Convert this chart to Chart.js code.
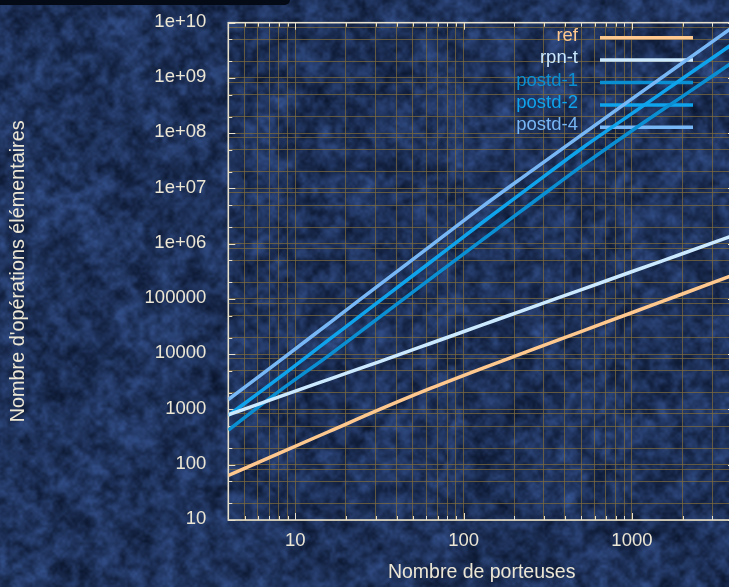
<!DOCTYPE html>
<html>
<head>
<meta charset="utf-8">
<title>Nombre d'opérations élémentaires</title>
<script src="https://cdn.jsdelivr.net/npm/chart.js@4.4.1/dist/chart.umd.min.js"></script>
<style>
  html, body { margin: 0; padding: 0; overflow: hidden; background: #223a66; }
  #wrap { position: relative; width: 729px; height: 587px; overflow: hidden; }
  #bg, #chart { position: absolute; left: 0; top: 0; }
  #titlebar { position: absolute; left: 0; top: 0; width: 290px; height: 5px;
              background: #050a17; border-bottom-right-radius: 5px; }
</style>
</head>
<body>
<div id="wrap">
  <canvas id="bg" width="729" height="587"></canvas>
  <canvas id="chart" width="745" height="587"></canvas>
  <div id="titlebar"></div>
</div>
<script>
// number of carriers (x) and elementary operations per method (y)
const carriers  = [4, 8, 16, 32, 64, 128, 256, 512, 1024, 2048, 4096];
const refOps    = [64, 161, 404, 1014, 2430, 5510, 12100, 26500, 58100, 127000, 279000];
const rpnOps    = [802, 1690, 3550, 7450, 15800, 33600, 71400, 151000, 321000, 679000, 1440000];
const postd1Ops = [423, 2130, 9750, 47900, 235000, 1150000, 5520000, 26400000, 117000000, 490000000, 2050000000];
const postd2Ops = [780, 3720, 18700, 94000, 472000, 2370000, 11500000, 55200000, 238000000, 1030000000, 4420000000];
const postd4Ops = [1517, 7430, 37100, 185000, 923000, 4600000, 21300000, 97500000, 440000000, 1980000000, 8900000000];

const seriesNames = ['ref', 'rpn-t', 'postd-1', 'postd-2', 'postd-4'];

// tick labels
const xLabelValues = [10, 100, 1000];
const xLabelTexts  = ['10', '100', '1000'];
const yLabelValues = [10, 100, 1000, 10000, 100000, 1e6, 1e7, 1e8, 1e9, 1e10];
const yLabelTexts  = ['10', '100', '1000', '10000', '100000', '1e+06', '1e+07', '1e+08', '1e+09', '1e+10'];

// minor grid multipliers inside each decade
const xGridFactors = [1, 2, 3, 4, 5, 6, 7, 8, 9];
const yGridFactors = [1, 2, 5, 8.3];
const yTickFactors = [1, 2, 5];

const textColor = '#ece6d4';
const gridColor = 'rgba(124, 105, 62, 0.75)';
const frameColor = '#e6e0cc';
const colors = ['#ffc88e', '#cbe9ff', '#0a8fd3', '#0fa3ec', '#78b7f5'];
const FONT = '"Liberation Sans", Arial, sans-serif';

Chart.defaults.font.family = FONT;

function decadeValues(factors, lo, hi) {
  const out = [];
  for (let k = 0; k <= 10; k++) {
    factors.forEach(f => {
      const v = f * Math.pow(10, k);
      if (v >= lo && v <= hi) out.push(v);
    });
  }
  return out.sort((a, b) => a - b);
}
const xGrid = decadeValues(xGridFactors, 4, 4096);
const yGrid = decadeValues(yGridFactors, 10, 1e10);
const yTickMarks = decadeValues(yTickFactors, 10, 1e10);
const isDecade = v => Math.abs(Math.log10(v) - Math.round(Math.log10(v))) < 1e-9;

// textured dark blue background
function hash(i, j, s) {
  const x = Math.sin(i * 127.1 + j * 311.7 + s * 74.7) * 43758.5453;
  return x - Math.floor(x);
}
function paintBackground() {
  const c = document.getElementById('bg');
  const g = c.getContext('2d');
  g.fillStyle = '#223a66';
  g.fillRect(0, 0, c.width, c.height);
  const layer = (cell, seed, alpha) => {
    const w = Math.ceil(c.width / cell) + 2, h = Math.ceil(c.height / cell) + 2;
    const off = document.createElement('canvas');
    off.width = w; off.height = h;
    const og = off.getContext('2d');
    const img = og.createImageData(w, h);
    for (let j = 0; j < h; j++) {
      for (let i = 0; i < w; i++) {
        const n = Math.pow(hash(i, j, seed), 1.25);
        const p = (j * w + i) * 4;
        img.data[p] = 8 + n * 50;
        img.data[p + 1] = 18 + n * 72;
        img.data[p + 2] = 40 + n * 115;
        img.data[p + 3] = alpha * 255;
      }
    }
    og.putImageData(img, 0, 0);
    g.imageSmoothingEnabled = true;
    g.imageSmoothingQuality = 'high';
    g.drawImage(off, -cell, -cell, w * cell, h * cell);
  };
  layer(16, 1, 1);
  layer(6, 2, 0.55);
  layer(2.5, 3, 0.2);
}
paintBackground();

// frame with inward ticks
const framePlugin = {
  id: 'frame',
  beforeDatasetsDraw(chart) {
    const { ctx, chartArea: a, scales } = chart;
    ctx.save();
    ctx.strokeStyle = frameColor;
    ctx.lineWidth = 1;
    yTickMarks.forEach(v => {
      const y = Math.round(scales.y.getPixelForValue(v)) + 0.5;
      const len = isDecade(v) ? 7 : 4;
      ctx.beginPath();
      ctx.moveTo(a.left, y); ctx.lineTo(a.left + len, y);
      ctx.moveTo(a.right, y); ctx.lineTo(a.right - len, y);
      ctx.stroke();
    });
    xGrid.forEach(v => {
      const x = Math.round(scales.x.getPixelForValue(v)) + 0.5;
      const len = isDecade(v) ? 7 : 4;
      ctx.beginPath();
      ctx.moveTo(x, a.bottom); ctx.lineTo(x, a.bottom - len);
      ctx.moveTo(x, a.top); ctx.lineTo(x, a.top + len);
      ctx.stroke();
    });
    ctx.lineWidth = 1.6;
    ctx.strokeRect(a.left, a.top, a.right - a.left, a.bottom - a.top);
    ctx.restore();
  }
};

// legend at top right: label right aligned, sample line after it
const keyPlugin = {
  id: 'key',
  beforeDatasetsDraw(chart) {
    const { ctx } = chart;
    ctx.save();
    ctx.font = '18.5px ' + FONT;
    ctx.textAlign = 'right';
    ctx.textBaseline = 'middle';
    chart.data.datasets.forEach((ds, i) => {
      const y = 37.7 + i * 22.4;
      ctx.fillStyle = ds.borderColor;
      ctx.fillText(ds.label, 578, y - 2);
      ctx.strokeStyle = ds.borderColor;
      ctx.lineWidth = 3.5;
      ctx.beginPath();
      ctx.moveTo(600, y); ctx.lineTo(693, y);
      ctx.stroke();
    });
    ctx.restore();
  }
};

const allOps = [refOps, rpnOps, postd1Ops, postd2Ops, postd4Ops];

new Chart(document.getElementById('chart'), {
  type: 'line',
  data: {
    datasets: allOps.map((ops, i) => ({
      label: seriesNames[i],
      data: carriers.map((n, j) => ({ x: n, y: ops[j] })),
      borderColor: colors[i],
      borderWidth: 3.5,
      pointRadius: 0,
      cubicInterpolationMode: 'monotone',
      fill: false
    }))
  },
  options: {
    responsive: false,
    animation: false,
    devicePixelRatio: 1,
    layout: { padding: { top: 22.7, right: 10, left: 0, bottom: 0 } },
    plugins: { legend: { display: false }, tooltip: { enabled: false } },
    scales: {
      x: {
        type: 'logarithmic',
        min: 4,
        max: 4096,
        afterBuildTicks: s => { s.ticks = xGrid.map(v => ({ value: v })); },
        afterFit: s => { s.height = 67; s.paddingLeft = 0; s.paddingRight = 0; },
        grid: { color: gridColor, lineWidth: 1, drawTicks: false },
        border: { display: false },
        ticks: {
          autoSkip: false, maxRotation: 0, padding: 10,
          color: textColor, font: { size: 18.5 },
          callback: v => { const i = xLabelValues.indexOf(v); return i < 0 ? '' : xLabelTexts[i]; }
        },
        title: {
          display: true, text: 'Nombre de porteuses', color: textColor,
          font: { size: 19.5 }, padding: { top: 0, bottom: 3 }
        }
      },
      y: {
        type: 'logarithmic',
        min: 10,
        max: 1e10,
        afterBuildTicks: s => { s.ticks = yGrid.map(v => ({ value: v })); },
        afterFit: s => { s.width = 228.3; s.paddingTop = 0; s.paddingBottom = 0; },
        grid: { color: gridColor, lineWidth: 1, drawTicks: false },
        border: { display: false },
        ticks: {
          autoSkip: false, padding: 22, labelOffset: -1,
          color: textColor, font: { size: 18.5 },
          callback: v => { const i = yLabelValues.indexOf(v); return i < 0 ? '' : yLabelTexts[i]; }
        },
        title: {
          display: true, text: "Nombre d'opérations élémentaires", color: textColor,
          font: { size: 19.8 }, padding: { top: 7, bottom: 0 }
        }
      }
    }
  },
  plugins: [framePlugin, keyPlugin]
});
</script>
</body>
</html>
